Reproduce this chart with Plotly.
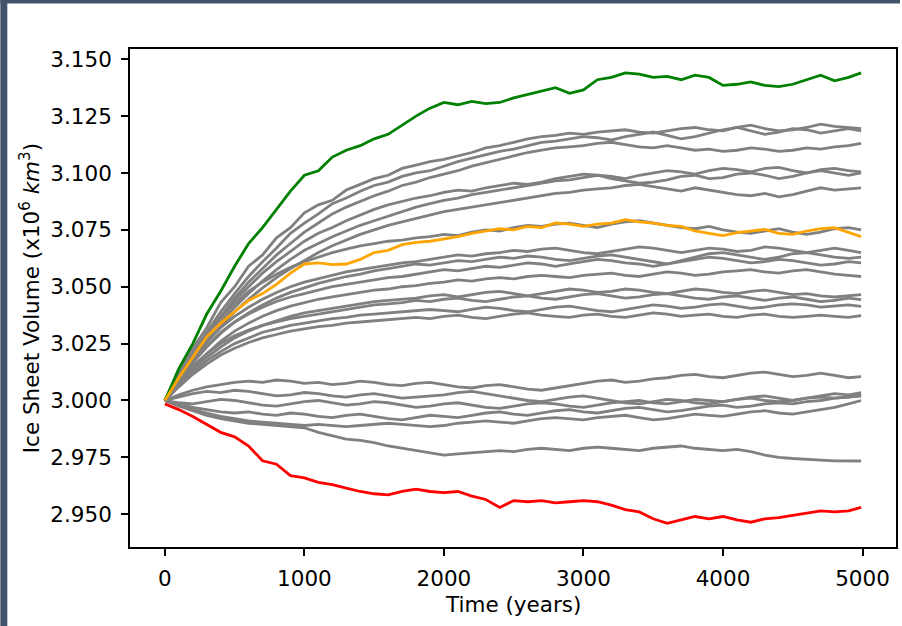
import plotly.graph_objects as go

# ---- data ----
time_years = [0, 100, 200, 300, 400, 500, 600, 700, 800, 900,
              1000, 1100, 1200, 1300, 1400, 1500, 1600, 1700, 1800, 1900,
              2000, 2100, 2200, 2300, 2400, 2500, 2600, 2700, 2800, 2900,
              3000, 3100, 3200, 3300, 3400, 3500, 3600, 3700, 3800, 3900,
              4000, 4100, 4200, 4300, 4400, 4500, 4600, 4700, 4800, 4900, 4990]

green_run = [3.0000, 3.0140, 3.0250, 3.0380, 3.0480, 3.0590, 3.0690, 3.0760, 3.0840, 3.0920,
             3.0990, 3.1010, 3.1070, 3.1100, 3.1120, 3.1150, 3.1170, 3.1210, 3.1250, 3.1285,
             3.1310, 3.1300, 3.1315, 3.1305, 3.1310, 3.1330, 3.1345, 3.1360, 3.1375, 3.1350,
             3.1365, 3.1410, 3.1420, 3.1440, 3.1435, 3.1420, 3.1425, 3.1410, 3.1430, 3.1420,
             3.1385, 3.1390, 3.1400, 3.1385, 3.1380, 3.1390, 3.1410, 3.1430, 3.1405, 3.1420, 3.1440]

orange_run = [3.0000, 3.0100, 3.0190, 3.0280, 3.0340, 3.0390, 3.0440, 3.0470, 3.0510, 3.0560,
              3.0600, 3.0605, 3.0597, 3.0600, 3.0620, 3.0650, 3.0660, 3.0685, 3.0695, 3.0700,
              3.0710, 3.0720, 3.0735, 3.0745, 3.0755, 3.0750, 3.0765, 3.0760, 3.0780, 3.0775,
              3.0765, 3.0775, 3.0780, 3.0795, 3.0785, 3.0780, 3.0770, 3.0765, 3.0745, 3.0735,
              3.0725, 3.0738, 3.0745, 3.0752, 3.0735, 3.0730, 3.0745, 3.0755, 3.0760, 3.0740, 3.0720]

red_run = [2.9985, 2.9960, 2.9930, 2.9895, 2.9860, 2.9840, 2.9800, 2.9735, 2.9720, 2.9670,
           2.9660, 2.9640, 2.9630, 2.9615, 2.9600, 2.9590, 2.9585, 2.9600, 2.9610, 2.9600,
           2.9595, 2.9600, 2.9580, 2.9565, 2.9530, 2.9560, 2.9555, 2.9560, 2.9550, 2.9555,
           2.9560, 2.9555, 2.9540, 2.9520, 2.9510, 2.9480, 2.9460, 2.9475, 2.9490, 2.9480,
           2.9490, 2.9475, 2.9465, 2.9480, 2.9485, 2.9495, 2.9505, 2.9515, 2.9510, 2.9515, 2.9530]

gray_01 = [3.0000, 3.0125, 3.0230, 3.0320, 3.0430, 3.0500, 3.0590, 3.0640, 3.0715, 3.0760,
           3.0825, 3.0860, 3.0880, 3.0925, 3.0950, 3.0975, 3.0990, 3.1020, 3.1035, 3.1050,
           3.1060, 3.1075, 3.1090, 3.1110, 3.1120, 3.1135, 3.1150, 3.1160, 3.1165, 3.1175,
           3.1170, 3.1180, 3.1185, 3.1190, 3.1180, 3.1175, 3.1185, 3.1195, 3.1200, 3.1190,
           3.1185, 3.1200, 3.1210, 3.1195, 3.1185, 3.1190, 3.1200, 3.1215, 3.1205, 3.1200, 3.1195]
gray_02 = [3.0000, 3.0105, 3.0210, 3.0300, 3.0390, 3.0470, 3.0545, 3.0610, 3.0670, 3.0735,
           3.0780, 3.0820, 3.0865, 3.0890, 3.0920, 3.0945, 3.0960, 3.0985, 3.1000, 3.1010,
           3.1030, 3.1050, 3.1065, 3.1080, 3.1095, 3.1105, 3.1120, 3.1135, 3.1140, 3.1150,
           3.1160, 3.1155, 3.1145, 3.1160, 3.1170, 3.1180, 3.1165, 3.1150, 3.1160, 3.1175,
           3.1190, 3.1200, 3.1185, 3.1170, 3.1180, 3.1195, 3.1190, 3.1175, 3.1185, 3.1195, 3.1185]
gray_03 = [3.0000, 3.0110, 3.0200, 3.0290, 3.0370, 3.0450, 3.0520, 3.0580, 3.0640, 3.0690,
           3.0740, 3.0780, 3.0820, 3.0850, 3.0875, 3.0900, 3.0920, 3.0945, 3.0960, 3.0980,
           3.0995, 3.1010, 3.1030, 3.1045, 3.1060, 3.1075, 3.1090, 3.1100, 3.1110, 3.1115,
           3.1120, 3.1130, 3.1135, 3.1125, 3.1115, 3.1110, 3.1120, 3.1110, 3.1100, 3.1105,
           3.1095, 3.1100, 3.1110, 3.1105, 3.1095, 3.1100, 3.1110, 3.1105, 3.1115, 3.1120, 3.1130]
gray_04 = [3.0000, 3.0095, 3.0185, 3.0270, 3.0345, 3.0410, 3.0470, 3.0525, 3.0575, 3.0620,
           3.0660, 3.0690, 3.0720, 3.0745, 3.0770, 3.0790, 3.0810, 3.0830, 3.0850, 3.0865,
           3.0880, 3.0890, 3.0905, 3.0915, 3.0925, 3.0935, 3.0945, 3.0955, 3.0965, 3.0970,
           3.0980, 3.0990, 3.0985, 3.0975, 3.0990, 3.1000, 3.1010, 3.1005, 3.0995, 3.1010,
           3.1020, 3.1015, 3.1005, 3.1020, 3.1025, 3.1010, 3.1000, 3.1015, 3.1020, 3.1010, 3.1005]
gray_05 = [3.0000, 3.0100, 3.0195, 3.0285, 3.0365, 3.0440, 3.0500, 3.0560, 3.0610, 3.0655,
           3.0700, 3.0735, 3.0760, 3.0790, 3.0815, 3.0840, 3.0860, 3.0875, 3.0890, 3.0900,
           3.0915, 3.0925, 3.0920, 3.0935, 3.0945, 3.0955, 3.0950, 3.0960, 3.0975, 3.0985,
           3.0995, 3.0990, 3.0975, 3.0965, 3.0955, 3.0960, 3.0970, 3.0985, 3.0990, 3.0975,
           3.0980, 3.0995, 3.1000, 3.0990, 3.0975, 3.0985, 3.1000, 3.1010, 3.1000, 3.0990, 3.1000]
gray_06 = [3.0000, 3.0090, 3.0175, 3.0255, 3.0325, 3.0390, 3.0445, 3.0495, 3.0540, 3.0580,
           3.0615, 3.0650, 3.0680, 3.0705, 3.0730, 3.0750, 3.0770, 3.0785, 3.0800, 3.0815,
           3.0830, 3.0840, 3.0850, 3.0860, 3.0870, 3.0880, 3.0890, 3.0900, 3.0910, 3.0915,
           3.0925, 3.0930, 3.0935, 3.0945, 3.0950, 3.0940, 3.0930, 3.0920, 3.0935, 3.0925,
           3.0915, 3.0905, 3.0900, 3.0910, 3.0895, 3.0905, 3.0920, 3.0935, 3.0925, 3.0930, 3.0935]
gray_07 = [3.0000, 3.0110, 3.0205, 3.0290, 3.0365, 3.0425, 3.0480, 3.0520, 3.0555, 3.0585,
           3.0610, 3.0630, 3.0650, 3.0665, 3.0680, 3.0690, 3.0700, 3.0705, 3.0715, 3.0720,
           3.0730, 3.0725, 3.0740, 3.0750, 3.0745, 3.0760, 3.0770, 3.0765, 3.0775, 3.0780,
           3.0770, 3.0760, 3.0775, 3.0785, 3.0790, 3.0780, 3.0770, 3.0760, 3.0755, 3.0765,
           3.0750, 3.0740, 3.0735, 3.0745, 3.0755, 3.0740, 3.0730, 3.0740, 3.0755, 3.0760, 3.0750]
gray_08 = [3.0000, 3.0100, 3.0185, 3.0260, 3.0320, 3.0370, 3.0410, 3.0445, 3.0475, 3.0500,
           3.0520, 3.0535, 3.0550, 3.0565, 3.0575, 3.0585, 3.0595, 3.0605, 3.0610, 3.0620,
           3.0630, 3.0640, 3.0635, 3.0645, 3.0650, 3.0660, 3.0655, 3.0665, 3.0670, 3.0660,
           3.0650, 3.0645, 3.0655, 3.0665, 3.0675, 3.0670, 3.0660, 3.0650, 3.0660, 3.0670,
           3.0665, 3.0655, 3.0660, 3.0675, 3.0670, 3.0660, 3.0650, 3.0660, 3.0670, 3.0660, 3.0650]
gray_09 = [3.0000, 3.0085, 3.0165, 3.0235, 3.0295, 3.0345, 3.0385, 3.0420, 3.0450, 3.0475,
           3.0495, 3.0515, 3.0530, 3.0545, 3.0555, 3.0570, 3.0580, 3.0590, 3.0600, 3.0595,
           3.0605, 3.0615, 3.0610, 3.0620, 3.0630, 3.0625, 3.0635, 3.0630, 3.0620, 3.0615,
           3.0625, 3.0635, 3.0640, 3.0630, 3.0620, 3.0610, 3.0600, 3.0615, 3.0630, 3.0645,
           3.0650, 3.0640, 3.0630, 3.0620, 3.0630, 3.0645, 3.0650, 3.0640, 3.0630, 3.0625, 3.0630]
gray_10 = [3.0000, 3.0090, 3.0170, 3.0240, 3.0300, 3.0345, 3.0380, 3.0410, 3.0435, 3.0455,
           3.0470, 3.0485, 3.0500, 3.0510, 3.0520, 3.0530, 3.0540, 3.0545, 3.0555, 3.0565,
           3.0575, 3.0570, 3.0580, 3.0590, 3.0585, 3.0595, 3.0605, 3.0600, 3.0590, 3.0600,
           3.0610, 3.0620, 3.0615, 3.0605, 3.0600, 3.0590, 3.0600, 3.0610, 3.0620, 3.0630,
           3.0625, 3.0615, 3.0605, 3.0610, 3.0620, 3.0615, 3.0605, 3.0595, 3.0600, 3.0610, 3.0605]
gray_11 = [3.0000, 3.0075, 3.0145, 3.0205, 3.0260, 3.0305, 3.0340, 3.0370, 3.0395, 3.0415,
           3.0430, 3.0445, 3.0455, 3.0465, 3.0475, 3.0485, 3.0490, 3.0500, 3.0505, 3.0515,
           3.0520, 3.0530, 3.0525, 3.0535, 3.0540, 3.0535, 3.0545, 3.0550, 3.0545, 3.0540,
           3.0550, 3.0555, 3.0560, 3.0550, 3.0545, 3.0555, 3.0565, 3.0560, 3.0550, 3.0555,
           3.0565, 3.0570, 3.0575, 3.0565, 3.0560, 3.0570, 3.0575, 3.0565, 3.0555, 3.0550, 3.0545]
gray_12 = [3.0000, 3.0070, 3.0135, 3.0190, 3.0235, 3.0275, 3.0305, 3.0330, 3.0350, 3.0370,
           3.0385, 3.0395, 3.0405, 3.0415, 3.0425, 3.0435, 3.0440, 3.0445, 3.0450, 3.0460,
           3.0465, 3.0455, 3.0465, 3.0475, 3.0480, 3.0470, 3.0460, 3.0470, 3.0480, 3.0490,
           3.0485, 3.0475, 3.0480, 3.0490, 3.0485, 3.0475, 3.0470, 3.0480, 3.0490, 3.0485,
           3.0475, 3.0470, 3.0480, 3.0485, 3.0475, 3.0465, 3.0470, 3.0460, 3.0455, 3.0460, 3.0465]
gray_13 = [3.0000, 3.0080, 3.0150, 3.0205, 3.0250, 3.0285, 3.0310, 3.0330, 3.0345, 3.0360,
           3.0370, 3.0380, 3.0390, 3.0400, 3.0410, 3.0420, 3.0425, 3.0430, 3.0440, 3.0435,
           3.0445, 3.0450, 3.0440, 3.0435, 3.0445, 3.0455, 3.0460, 3.0450, 3.0445, 3.0455,
           3.0465, 3.0470, 3.0460, 3.0450, 3.0455, 3.0465, 3.0470, 3.0460, 3.0450, 3.0445,
           3.0455, 3.0460, 3.0450, 3.0440, 3.0450, 3.0455, 3.0445, 3.0435, 3.0440, 3.0450, 3.0443]
gray_14 = [3.0000, 3.0065, 3.0125, 3.0175, 3.0215, 3.0250, 3.0275, 3.0300, 3.0315, 3.0330,
           3.0340, 3.0350, 3.0360, 3.0365, 3.0375, 3.0380, 3.0385, 3.0390, 3.0395, 3.0400,
           3.0395, 3.0390, 3.0400, 3.0410, 3.0405, 3.0395, 3.0390, 3.0400, 3.0410, 3.0415,
           3.0405, 3.0395, 3.0390, 3.0400, 3.0410, 3.0420, 3.0415, 3.0405, 3.0410, 3.0420,
           3.0425, 3.0415, 3.0405, 3.0410, 3.0420, 3.0425, 3.0420, 3.0410, 3.0415, 3.0420, 3.0414]
gray_15 = [3.0000, 3.0060, 3.0115, 3.0160, 3.0200, 3.0230, 3.0255, 3.0275, 3.0290, 3.0305,
           3.0315, 3.0325, 3.0330, 3.0340, 3.0345, 3.0350, 3.0355, 3.0360, 3.0365, 3.0360,
           3.0370, 3.0375, 3.0365, 3.0360, 3.0370, 3.0380, 3.0385, 3.0375, 3.0370, 3.0365,
           3.0375, 3.0380, 3.0370, 3.0365, 3.0375, 3.0385, 3.0380, 3.0370, 3.0375, 3.0380,
           3.0370, 3.0365, 3.0375, 3.0380, 3.0370, 3.0365, 3.0370, 3.0375, 3.0370, 3.0365, 3.0373]
gray_16 = [3.0000, 3.0025, 3.0045, 3.0060, 3.0070, 3.0080, 3.0085, 3.0080, 3.0090, 3.0085,
           3.0075, 3.0080, 3.0070, 3.0075, 3.0085, 3.0080, 3.0070, 3.0065, 3.0075, 3.0080,
           3.0070, 3.0060, 3.0055, 3.0065, 3.0070, 3.0060, 3.0050, 3.0045, 3.0055, 3.0065,
           3.0075, 3.0085, 3.0090, 3.0080, 3.0085, 3.0095, 3.0100, 3.0110, 3.0115, 3.0105,
           3.0100, 3.0110, 3.0120, 3.0125, 3.0115, 3.0105, 3.0110, 3.0120, 3.0110, 3.0100, 3.0105]
gray_17 = [3.0000, 3.0015, 3.0030, 3.0040, 3.0035, 3.0045, 3.0040, 3.0030, 3.0020, 3.0025,
           3.0035, 3.0030, 3.0020, 3.0015, 3.0025, 3.0030, 3.0020, 3.0010, 3.0015, 3.0020,
           3.0025, 3.0035, 3.0040, 3.0030, 3.0020, 3.0010, 3.0000, 2.9995, 3.0005, 3.0015,
           3.0020, 3.0010, 3.0000, 2.9990, 2.9985, 2.9995, 3.0005, 3.0000, 2.9990, 2.9985,
           2.9995, 3.0005, 3.0015, 3.0020, 3.0010, 3.0000, 3.0010, 3.0020, 3.0030, 3.0025, 3.0035]
gray_18 = [3.0000, 2.9990, 2.9985, 2.9995, 3.0005, 3.0000, 2.9990, 2.9980, 2.9975, 2.9985,
           2.9995, 3.0000, 2.9990, 2.9980, 2.9985, 2.9995, 2.9990, 2.9980, 2.9970, 2.9975,
           2.9985, 2.9990, 2.9980, 2.9970, 2.9965, 2.9975, 2.9985, 2.9990, 2.9985, 2.9975,
           2.9970, 2.9980, 2.9990, 2.9995, 3.0000, 2.9990, 2.9985, 2.9995, 3.0005, 3.0000,
           2.9995, 3.0005, 3.0010, 3.0000, 2.9995, 3.0000, 3.0010, 3.0015, 3.0010, 3.0015, 3.0019]
gray_19 = [3.0000, 2.9985, 2.9970, 2.9960, 2.9950, 2.9945, 2.9950, 2.9940, 2.9935, 2.9945,
           2.9940, 2.9930, 2.9925, 2.9935, 2.9940, 2.9930, 2.9920, 2.9915, 2.9925, 2.9935,
           2.9930, 2.9925, 2.9935, 2.9945, 2.9950, 2.9940, 2.9935, 2.9945, 2.9955, 2.9960,
           2.9950, 2.9945, 2.9955, 2.9965, 2.9970, 2.9960, 2.9950, 2.9955, 2.9965, 2.9975,
           2.9980, 2.9970, 2.9975, 2.9985, 2.9990, 2.9985, 2.9995, 3.0000, 3.0010, 3.0015, 3.0025]
gray_20 = [3.0000, 2.9980, 2.9960, 2.9945, 2.9930, 2.9920, 2.9910, 2.9905, 2.9900, 2.9895,
           2.9890, 2.9895, 2.9890, 2.9885, 2.9890, 2.9895, 2.9900, 2.9895, 2.9890, 2.9885,
           2.9890, 2.9900, 2.9905, 2.9910, 2.9905, 2.9900, 2.9910, 2.9920, 2.9925, 2.9920,
           2.9915, 2.9925, 2.9930, 2.9935, 2.9925, 2.9915, 2.9920, 2.9930, 2.9940, 2.9935,
           2.9930, 2.9940, 2.9950, 2.9955, 2.9945, 2.9940, 2.9950, 2.9960, 2.9970, 2.9985, 3.0000]
gray_21 = [3.0000, 2.9975, 2.9955, 2.9935, 2.9920, 2.9910, 2.9900, 2.9895, 2.9890, 2.9885,
           2.9880, 2.9860, 2.9845, 2.9830, 2.9825, 2.9815, 2.9800, 2.9790, 2.9780, 2.9770,
           2.9760, 2.9765, 2.9770, 2.9775, 2.9780, 2.9775, 2.9785, 2.9790, 2.9785, 2.9780,
           2.9790, 2.9795, 2.9790, 2.9785, 2.9780, 2.9790, 2.9795, 2.9800, 2.9790, 2.9785,
           2.9780, 2.9785, 2.9775, 2.9760, 2.9750, 2.9745, 2.9740, 2.9738, 2.9735, 2.9733, 2.9734]

gray_runs = [gray_01, gray_02, gray_03, gray_04, gray_05, gray_06, gray_07,
             gray_08, gray_09, gray_10, gray_11, gray_12, gray_13, gray_14,
             gray_15, gray_16, gray_17, gray_18, gray_19, gray_20, gray_21]

y_ticks = [2.950, 2.975, 3.000, 3.025, 3.050, 3.075, 3.100, 3.125, 3.150]
x_ticks = [0, 1000, 2000, 3000, 4000, 5000]

x_label = "Time (years)"
y_label = "Ice Sheet Volume (x10<sup>6</sup> <i>km</i><sup>3</sup>)"

# ---- figure ----
FONT = "DejaVu Sans"
LW = 2.8

fig = go.Figure()
for run in gray_runs:
    fig.add_trace(go.Scatter(x=time_years, y=run, mode="lines",
                             line=dict(color="#808080", width=LW), hoverinfo="skip"))
fig.add_trace(go.Scatter(x=time_years, y=green_run, mode="lines",
                         line=dict(color="#008000", width=LW)))
fig.add_trace(go.Scatter(x=time_years, y=orange_run, mode="lines",
                         line=dict(color="#FFA500", width=LW)))
fig.add_trace(go.Scatter(x=time_years, y=red_run, mode="lines",
                         line=dict(color="#FF0000", width=LW)))

L, R, T, B = 130, 4, 49, 79
W, H = 902, 626
pw, ph = W - L - R, H - T - B

def px_x(p):
    return (p - L) / pw

def px_y(p):
    return (H - B - p) / ph

border = "#41536B"
fig.add_shape(type="rect", xref="paper", yref="paper",
              x0=px_x(0), x1=px_x(7), y0=px_y(H), y1=px_y(0),
              fillcolor=border, line=dict(width=0), layer="below")
fig.add_shape(type="rect", xref="paper", yref="paper",
              x0=px_x(0), x1=px_x(W), y0=px_y(3.5), y1=px_y(0),
              fillcolor=border, line=dict(width=0), layer="below")

axis_common = dict(showline=True, linecolor="black", linewidth=1.6, mirror=True,
                   ticks="outside", ticklen=7, tickwidth=1.6, tickcolor="black",
                   showgrid=False, zeroline=False,
                   tickfont=dict(family=FONT, size=21.5, color="black"))

fig.update_layout(
    width=W, height=H,
    margin=dict(l=L, r=R, t=T, b=B, pad=0),
    paper_bgcolor="white", plot_bgcolor="white",
    showlegend=False,
    font=dict(family=FONT, color="black"),
    xaxis=dict(range=[-250, 5240], tickvals=x_ticks,
               ticktext=[str(v) for v in x_ticks], ticklabelstandoff=4, **axis_common),
    yaxis=dict(range=[2.9356, 3.1545], tickvals=y_ticks,
               ticktext=["%.3f" % v for v in y_ticks], ticklabelstandoff=5, **axis_common),
)

fig.add_annotation(text=x_label, xref="paper", yref="paper",
                   x=0.5, y=px_y(604), xanchor="center", yanchor="middle",
                   showarrow=False, font=dict(family=FONT, size=21.5, color="black"))
fig.add_annotation(text=y_label, xref="paper", yref="paper",
                   x=px_x(30), y=0.5, xanchor="center", yanchor="middle", textangle=-90,
                   showarrow=False, font=dict(family=FONT, size=21.5, color="black"))

fig.write_html("out.html", config={"displayModeBar": False},
               post_script="document.body.style.margin='0';document.body.style.overflow='hidden';")
